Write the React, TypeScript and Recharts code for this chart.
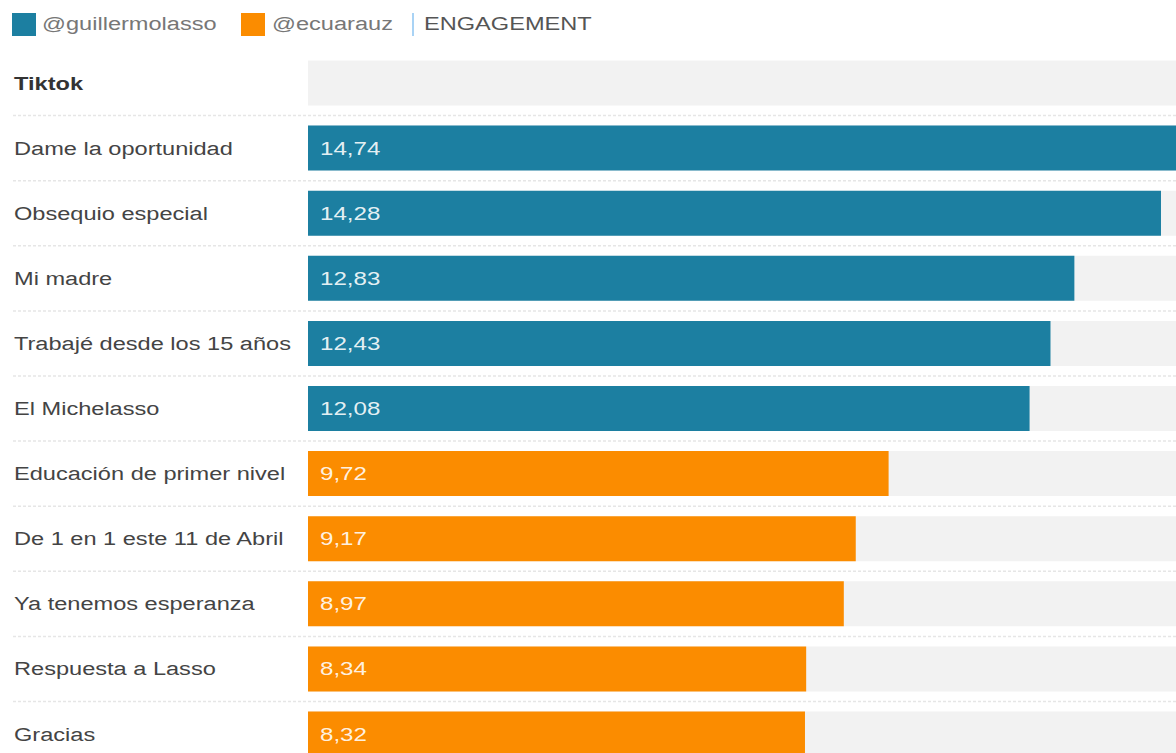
import { Bar, BarChart, Cell, LabelList, XAxis, YAxis } from "recharts";

const categories = [
  "Tiktok",
  "Dame la oportunidad",
  "Obsequio especial",
  "Mi madre",
  "Trabajé desde los 15 años",
  "El Michelasso",
  "Educación de primer nivel",
  "De 1 en 1 este 11 de Abril",
  "Ya tenemos esperanza",
  "Respuesta a Lasso",
  "Gracias",
];

const engagement = [null, 14.74, 14.28, 12.83, 12.43, 12.08, 9.72, 9.17, 8.97, 8.34, 8.32];

const accounts = [
  "",
  "@guillermolasso",
  "@guillermolasso",
  "@guillermolasso",
  "@guillermolasso",
  "@guillermolasso",
  "@ecuarauz",
  "@ecuarauz",
  "@ecuarauz",
  "@ecuarauz",
  "@ecuarauz",
];

const accountColors: Record<string, string> = {
  "@guillermolasso": "#1c7fa1",
  "@ecuarauz": "#fb8c00",
};

const data = categories.map((name, i) => ({
  name,
  value: engagement[i],
  account: accounts[i],
}));

const FONT = "'Liberation Sans', Arial, sans-serif";
const ROW = 65.1;
const BAR = 45;
const SX = 1.31; // reference text is stretched horizontally

function RowTick(props: any) {
  const { y, payload } = props;
  const header = payload.value === "Tiktok";
  return (
    <g>
      {header && (
        // header row has no value, only the grey track
        <rect x={308} y={y - BAR / 2} width={896} height={BAR} fill="#f2f2f2" />
      )}
      <text
        transform={`translate(14,${y + 6.5}) scale(${SX},1)`}
        fontSize={18}
        fontFamily={FONT}
        fontWeight={header ? 700 : 400}
        fill={header ? "#333" : "#444"}
        textAnchor="start"
      >
        {payload.value}
      </text>
      <line
        x1={13}
        x2={1204}
        y1={y + ROW / 2}
        y2={y + ROW / 2}
        stroke="#e6e6e6"
        strokeWidth={1.5}
        strokeDasharray="3 2"
      />
    </g>
  );
}

function ValueLabel(props: any) {
  const { x, y, height, value } = props;
  if (value == null) return null;
  return (
    <text
      transform={`translate(${x + 12},${y + height / 2 + 6.5}) scale(1.34,1)`}
      fontSize={18}
      fontFamily={FONT}
      fill="#ffffff"
      fillOpacity={0.9}
    >
      {Number(value).toFixed(2).replace(".", ",")}
    </text>
  );
}

function LegendBar() {
  const txt = (left: number, label: string, color: string) => (
    <span
      style={{
        position: "absolute",
        left,
        top: 13,
        fontSize: 18,
        lineHeight: "23px",
        color,
        transform: `scaleX(${SX})`,
        transformOrigin: "left center",
        whiteSpace: "nowrap",
      }}
    >
      {label}
    </span>
  );
  const sq = (left: number, c: string) => (
    <div style={{ position: "absolute", left, top: 13, width: 24, height: 23, background: c }} />
  );
  return (
    <div style={{ position: "absolute", left: 0, top: 0, width: 1176, height: 50, fontFamily: FONT }}>
      {sq(12, accountColors["@guillermolasso"])}
      {txt(42, "@guillermolasso", "#777")}
      {sq(241, accountColors["@ecuarauz"])}
      {txt(272, "@ecuarauz", "#777")}
      <div style={{ position: "absolute", left: 412, top: 13, width: 2, height: 23, background: "#a9d3f5" }} />
      {txt(424, "ENGAGEMENT", "#555")}
    </div>
  );
}

export default function App() {
  return (
    <div
      style={{
        position: "absolute",
        left: 0,
        top: 0,
        width: 1176,
        height: 753,
        overflow: "hidden",
        background: "#fff",
      }}
    >
      <LegendBar />
      <div style={{ position: "absolute", left: 0, top: 0 }}>
        <BarChart
          width={1204}
          height={780}
          data={data}
          layout="vertical"
          margin={{ top: 50.5, right: 0, left: 0, bottom: 13.4 }}
          barCategoryGap={0}
        >
          <XAxis type="number" domain={[0, 15]} hide />
          <YAxis
            type="category"
            dataKey="name"
            width={308}
            axisLine={false}
            tickLine={false}
            tick={<RowTick />}
            interval={0}
          />
          <Bar
            dataKey="value"
            barSize={BAR}
            background={{ fill: "#f2f2f2" }}
            isAnimationActive={false}
          >
            {data.map((d, i) => (
              <Cell key={i} fill={accountColors[d.account] ?? "#f2f2f2"} />
            ))}
            <LabelList dataKey="value" content={<ValueLabel />} />
          </Bar>
        </BarChart>
      </div>
    </div>
  );
}
